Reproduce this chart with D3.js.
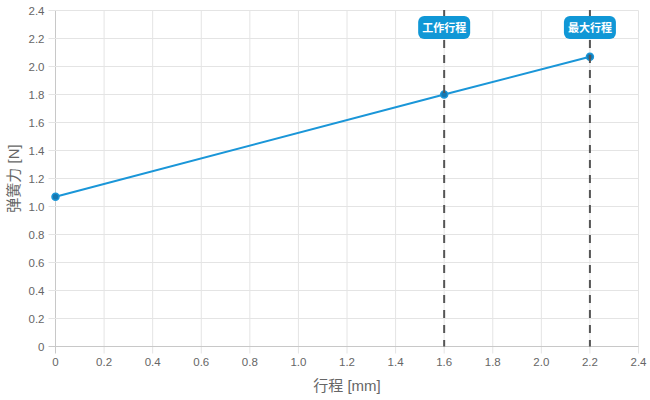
<!DOCTYPE html>
<html><head><meta charset="utf-8">
<script src="https://cdn.jsdelivr.net/npm/d3@7"></script>
<style>body{margin:0;background:#fff;} svg{display:block;font-family:"Liberation Sans",Arial,"Noto Sans CJK SC",sans-serif;}</style>
</head><body>
<svg id="c" width="650" height="400"></svg>
<script>
const strokeX = [0, 1.6, 2.2];
const forceY = [1.07, 1.80, 2.07];
const markerX = [1.6, 2.2];
const markerLabels = ["工作行程", "最大行程"];
const xTicks = [0,0.2,0.4,0.6,0.8,1.0,1.2,1.4,1.6,1.8,2.0,2.2,2.4];
const yTicks = [0,0.2,0.4,0.6,0.8,1.0,1.2,1.4,1.6,1.8,2.0,2.2,2.4];
const xTitle = "行程 [mm]";
const yTitle = "弹簧力 [N]";

const svg = d3.select("#c");
const L = 55.5, R = 638.5, T = 10.5, B = 346.5;
const x = d3.scaleLinear().domain([0, 2.4]).range([L, R]);
const y = d3.scaleLinear().domain([0, 2.4]).range([B, T]);
const fmt = v => v === 0 ? "0" : d3.format(".1f")(v);

// grid
svg.append("g").selectAll("line").data(xTicks).join("line")
  .attr("x1", d => x(d)).attr("x2", d => x(d)).attr("y1", T).attr("y2", B + 7)
  .attr("stroke", d => d === 0 ? "#c8c8c8" : "#e4e4e4").attr("stroke-width", 1);
svg.append("g").selectAll("line").data(yTicks).join("line")
  .attr("y1", d => y(d)).attr("y2", d => y(d)).attr("x1", L - 7).attr("x2", R)
  .attr("stroke", d => d === 0 ? "#c8c8c8" : "#e4e4e4").attr("stroke-width", 1);

// tick labels
svg.append("g").selectAll("text").data(xTicks).join("text")
  .attr("x", d => x(d)).attr("y", B + 19).attr("text-anchor", "middle")
  .attr("font-size", 11.5).attr("fill", "#666").text(fmt);
svg.append("g").selectAll("text").data(yTicks).join("text")
  .attr("x", L - 11).attr("y", d => y(d) + 4).attr("text-anchor", "end")
  .attr("font-size", 11.5).attr("fill", "#666").text(fmt);

// axis titles
svg.append("text").attr("x", (L + R) / 2).attr("y", 391).attr("text-anchor", "middle")
  .attr("font-size", 15).attr("fill", "#666").text(xTitle);
svg.append("text").attr("transform", `translate(19,${(T + B) / 2}) rotate(-90)`)
  .attr("text-anchor", "middle").attr("font-size", 15).attr("fill", "#666").text(yTitle);

// data line
const pts = strokeX.map((v, i) => [v, forceY[i]]);
svg.append("path").datum(pts)
  .attr("d", d3.line().x(d => x(d[0])).y(d => y(d[1])))
  .attr("fill", "none").attr("stroke", "#1a96d8").attr("stroke-width", 2);
svg.append("g").selectAll("circle").data(pts).join("circle")
  .attr("cx", d => x(d[0])).attr("cy", d => y(d[1])).attr("r", 3.5)
  .attr("fill", "#1677b0").attr("stroke", "#1a96d8").attr("stroke-width", 1.5);

// markers
const mg = svg.append("g");
mg.selectAll("line").data(markerX).join("line")
  .attr("x1", d => x(d)).attr("x2", d => x(d)).attr("y1", T - 0.5).attr("y2", B)
  .attr("stroke", "#555").attr("stroke-width", 2).attr("stroke-dasharray", "8,7");
const lab = mg.selectAll("g.lab").data(markerX).join("g").attr("class", "lab")
  .attr("transform", d => `translate(${x(d)},28)`);
lab.append("rect").attr("x", -26).attr("y", -12).attr("width", 52).attr("height", 23)
  .attr("rx", 6).attr("fill", "#1097d6");
lab.append("text").attr("text-anchor", "middle").attr("y", 4).attr("font-size", 11)
  .attr("font-weight", "bold").attr("fill", "#fff").text((d, i) => markerLabels[i]);
</script>
</body></html>
